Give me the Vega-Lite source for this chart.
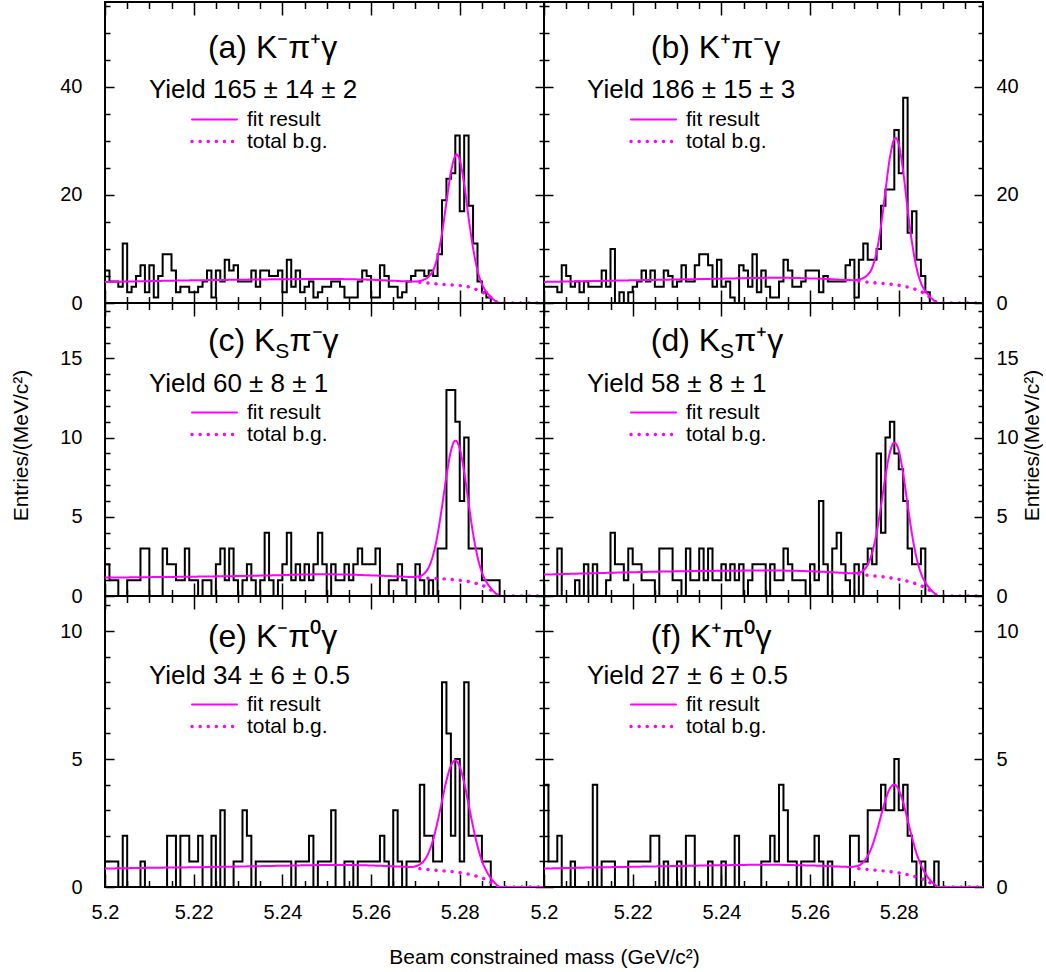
{
  "$schema": "https://vega.github.io/schema/vega-lite/v6.json",
  "padding": {"left": 9, "top": 0, "right": 0, "bottom": 0},
  "config": {
    "view": {"stroke": "black", "strokeWidth": 2},
    "axis": {"domain": false, "grid": false, "tickColor": "black", "tickWidth": 1.5, "labelFont": "Liberation Sans", "labelFontSize": 20, "labelColor": "black", "labelFlush": false, "labelOverlap": false, "labelBound": false, "titleFont": "Liberation Sans", "titleFontSize": 21, "titleFontWeight": "normal", "titleColor": "black"},
    "legend": {"orient": "none", "symbolType": "stroke", "symbolSize": 2025, "clipHeight": 21, "labelFont": "Liberation Sans", "labelFontSize": 21, "labelColor": "black", "labelOffset": 8, "rowPadding": 0, "padding": 0, "symbolStrokeColor": "#ff00ff", "symbolStrokeWidth": 2.5, "labelLimit": 0},
    "text": {"font": "Liberation Sans", "color": "black"}
  },
  "datasets": {
    "ha": [{"m":5.200,"n":6},{"m":5.201,"n":4},{"m":5.202,"n":4},{"m":5.203,"n":3},{"m":5.204,"n":11},{"m":5.205,"n":2},{"m":5.206,"n":3},{"m":5.207,"n":5},{"m":5.208,"n":7},{"m":5.209,"n":2},{"m":5.210,"n":7},{"m":5.211,"n":1},{"m":5.212,"n":5},{"m":5.213,"n":9},{"m":5.214,"n":9},{"m":5.215,"n":6},{"m":5.216,"n":2},{"m":5.217,"n":3},{"m":5.218,"n":3},{"m":5.219,"n":2},{"m":5.220,"n":2},{"m":5.221,"n":3},{"m":5.222,"n":4},{"m":5.223,"n":6},{"m":5.224,"n":1},{"m":5.225,"n":6},{"m":5.226,"n":4},{"m":5.227,"n":8},{"m":5.228,"n":6},{"m":5.229,"n":7},{"m":5.230,"n":4},{"m":5.231,"n":4},{"m":5.232,"n":4},{"m":5.233,"n":6},{"m":5.234,"n":3},{"m":5.235,"n":6},{"m":5.236,"n":6},{"m":5.237,"n":5},{"m":5.238,"n":5},{"m":5.239,"n":6},{"m":5.240,"n":2},{"m":5.241,"n":8},{"m":5.242,"n":3},{"m":5.243,"n":6},{"m":5.244,"n":2},{"m":5.245,"n":3},{"m":5.246,"n":4},{"m":5.247,"n":1},{"m":5.248,"n":2},{"m":5.249,"n":3},{"m":5.250,"n":3},{"m":5.251,"n":4},{"m":5.252,"n":4},{"m":5.253,"n":3},{"m":5.254,"n":1},{"m":5.255,"n":1},{"m":5.256,"n":1},{"m":5.257,"n":4},{"m":5.258,"n":6},{"m":5.259,"n":5},{"m":5.260,"n":1},{"m":5.261,"n":1},{"m":5.262,"n":7},{"m":5.263,"n":5},{"m":5.264,"n":3},{"m":5.265,"n":3},{"m":5.266,"n":1},{"m":5.267,"n":2},{"m":5.268,"n":4},{"m":5.269,"n":5},{"m":5.270,"n":6},{"m":5.271,"n":6},{"m":5.272,"n":5},{"m":5.273,"n":6},{"m":5.274,"n":5},{"m":5.275,"n":9},{"m":5.276,"n":19},{"m":5.277,"n":23},{"m":5.278,"n":24},{"m":5.279,"n":31},{"m":5.280,"n":17},{"m":5.281,"n":31},{"m":5.282,"n":18},{"m":5.283,"n":11},{"m":5.284,"n":4},{"m":5.285,"n":2},{"m":5.286,"n":1},{"m":5.287,"n":0},{"m":5.288,"n":0},{"m":5.289,"n":0},{"m":5.290,"n":0},{"m":5.291,"n":0},{"m":5.292,"n":0},{"m":5.293,"n":0},{"m":5.294,"n":0},{"m":5.295,"n":0},{"m":5.296,"n":0},{"m":5.297,"n":0},{"m":5.298,"n":0},{"m":5.299,"n":0}],
    "hb": [{"m":5.200,"n":3},{"m":5.201,"n":3},{"m":5.202,"n":3},{"m":5.203,"n":2},{"m":5.204,"n":7},{"m":5.205,"n":5},{"m":5.206,"n":3},{"m":5.207,"n":4},{"m":5.208,"n":2},{"m":5.209,"n":4},{"m":5.210,"n":3},{"m":5.211,"n":3},{"m":5.212,"n":3},{"m":5.213,"n":6},{"m":5.214,"n":3},{"m":5.215,"n":10},{"m":5.216,"n":0},{"m":5.217,"n":2},{"m":5.218,"n":0},{"m":5.219,"n":2},{"m":5.220,"n":3},{"m":5.221,"n":4},{"m":5.222,"n":6},{"m":5.223,"n":4},{"m":5.224,"n":6},{"m":5.225,"n":3},{"m":5.226,"n":3},{"m":5.227,"n":6},{"m":5.228,"n":5},{"m":5.229,"n":3},{"m":5.230,"n":4},{"m":5.231,"n":7},{"m":5.232,"n":4},{"m":5.233,"n":4},{"m":5.234,"n":7},{"m":5.235,"n":9},{"m":5.236,"n":9},{"m":5.237,"n":7},{"m":5.238,"n":3},{"m":5.239,"n":8},{"m":5.240,"n":3},{"m":5.241,"n":4},{"m":5.242,"n":1},{"m":5.243,"n":0},{"m":5.244,"n":7},{"m":5.245,"n":6},{"m":5.246,"n":3},{"m":5.247,"n":9},{"m":5.248,"n":2},{"m":5.249,"n":6},{"m":5.250,"n":3},{"m":5.251,"n":1},{"m":5.252,"n":1},{"m":5.253,"n":4},{"m":5.254,"n":8},{"m":5.255,"n":6},{"m":5.256,"n":3},{"m":5.257,"n":3},{"m":5.258,"n":4},{"m":5.259,"n":6},{"m":5.260,"n":6},{"m":5.261,"n":6},{"m":5.262,"n":2},{"m":5.263,"n":5},{"m":5.264,"n":4},{"m":5.265,"n":4},{"m":5.266,"n":4},{"m":5.267,"n":4},{"m":5.268,"n":7},{"m":5.269,"n":8},{"m":5.270,"n":1},{"m":5.271,"n":8},{"m":5.272,"n":11},{"m":5.273,"n":8},{"m":5.274,"n":8},{"m":5.275,"n":10},{"m":5.276,"n":18},{"m":5.277,"n":21},{"m":5.278,"n":21},{"m":5.279,"n":32},{"m":5.280,"n":24},{"m":5.281,"n":38},{"m":5.282,"n":13},{"m":5.283,"n":17},{"m":5.284,"n":8},{"m":5.285,"n":5},{"m":5.286,"n":2},{"m":5.287,"n":0},{"m":5.288,"n":0},{"m":5.289,"n":0},{"m":5.290,"n":0},{"m":5.291,"n":0},{"m":5.292,"n":0},{"m":5.293,"n":0},{"m":5.294,"n":0},{"m":5.295,"n":0},{"m":5.296,"n":0},{"m":5.297,"n":0},{"m":5.298,"n":0},{"m":5.299,"n":0}],
    "hc": [{"m":5.200,"n":2},{"m":5.201,"n":1},{"m":5.202,"n":1},{"m":5.203,"n":0},{"m":5.204,"n":0},{"m":5.205,"n":1},{"m":5.206,"n":1},{"m":5.207,"n":1},{"m":5.208,"n":3},{"m":5.209,"n":3},{"m":5.210,"n":0},{"m":5.211,"n":0},{"m":5.212,"n":0},{"m":5.213,"n":3},{"m":5.214,"n":2},{"m":5.215,"n":2},{"m":5.216,"n":1},{"m":5.217,"n":1},{"m":5.218,"n":3},{"m":5.219,"n":1},{"m":5.220,"n":1},{"m":5.221,"n":0},{"m":5.222,"n":1},{"m":5.223,"n":1},{"m":5.224,"n":0},{"m":5.225,"n":2},{"m":5.226,"n":3},{"m":5.227,"n":1},{"m":5.228,"n":3},{"m":5.229,"n":1},{"m":5.230,"n":0},{"m":5.231,"n":1},{"m":5.232,"n":2},{"m":5.233,"n":1},{"m":5.234,"n":0},{"m":5.235,"n":1},{"m":5.236,"n":4},{"m":5.237,"n":1},{"m":5.238,"n":0},{"m":5.239,"n":1},{"m":5.240,"n":2},{"m":5.241,"n":4},{"m":5.242,"n":1},{"m":5.243,"n":2},{"m":5.244,"n":1},{"m":5.245,"n":2},{"m":5.246,"n":1},{"m":5.247,"n":2},{"m":5.248,"n":4},{"m":5.249,"n":2},{"m":5.250,"n":0},{"m":5.251,"n":2},{"m":5.252,"n":1},{"m":5.253,"n":1},{"m":5.254,"n":2},{"m":5.255,"n":1},{"m":5.256,"n":2},{"m":5.257,"n":3},{"m":5.258,"n":2},{"m":5.259,"n":2},{"m":5.260,"n":2},{"m":5.261,"n":3},{"m":5.262,"n":0},{"m":5.263,"n":0},{"m":5.264,"n":1},{"m":5.265,"n":1},{"m":5.266,"n":2},{"m":5.267,"n":1},{"m":5.268,"n":0},{"m":5.269,"n":0},{"m":5.270,"n":2},{"m":5.271,"n":1},{"m":5.272,"n":0},{"m":5.273,"n":1},{"m":5.274,"n":0},{"m":5.275,"n":3},{"m":5.276,"n":3},{"m":5.277,"n":13},{"m":5.278,"n":13},{"m":5.279,"n":11},{"m":5.280,"n":6},{"m":5.281,"n":10},{"m":5.282,"n":3},{"m":5.283,"n":3},{"m":5.284,"n":3},{"m":5.285,"n":1},{"m":5.286,"n":1},{"m":5.287,"n":1},{"m":5.288,"n":1},{"m":5.289,"n":0},{"m":5.290,"n":0},{"m":5.291,"n":0},{"m":5.292,"n":0},{"m":5.293,"n":0},{"m":5.294,"n":0},{"m":5.295,"n":0},{"m":5.296,"n":0},{"m":5.297,"n":0},{"m":5.298,"n":0},{"m":5.299,"n":0}],
    "hd": [{"m":5.200,"n":0},{"m":5.201,"n":0},{"m":5.202,"n":0},{"m":5.203,"n":3},{"m":5.204,"n":0},{"m":5.205,"n":0},{"m":5.206,"n":0},{"m":5.207,"n":1},{"m":5.208,"n":0},{"m":5.209,"n":2},{"m":5.210,"n":0},{"m":5.211,"n":2},{"m":5.212,"n":0},{"m":5.213,"n":0},{"m":5.214,"n":1},{"m":5.215,"n":4},{"m":5.216,"n":2},{"m":5.217,"n":2},{"m":5.218,"n":1},{"m":5.219,"n":3},{"m":5.220,"n":2},{"m":5.221,"n":2},{"m":5.222,"n":1},{"m":5.223,"n":1},{"m":5.224,"n":1},{"m":5.225,"n":0},{"m":5.226,"n":3},{"m":5.227,"n":3},{"m":5.228,"n":3},{"m":5.229,"n":1},{"m":5.230,"n":1},{"m":5.231,"n":0},{"m":5.232,"n":3},{"m":5.233,"n":1},{"m":5.234,"n":1},{"m":5.235,"n":3},{"m":5.236,"n":1},{"m":5.237,"n":3},{"m":5.238,"n":1},{"m":5.239,"n":1},{"m":5.240,"n":2},{"m":5.241,"n":1},{"m":5.242,"n":2},{"m":5.243,"n":1},{"m":5.244,"n":2},{"m":5.245,"n":0},{"m":5.246,"n":1},{"m":5.247,"n":2},{"m":5.248,"n":2},{"m":5.249,"n":2},{"m":5.250,"n":0},{"m":5.251,"n":2},{"m":5.252,"n":1},{"m":5.253,"n":1},{"m":5.254,"n":3},{"m":5.255,"n":2},{"m":5.256,"n":1},{"m":5.257,"n":1},{"m":5.258,"n":1},{"m":5.259,"n":0},{"m":5.260,"n":2},{"m":5.261,"n":1},{"m":5.262,"n":6},{"m":5.263,"n":2},{"m":5.264,"n":0},{"m":5.265,"n":3},{"m":5.266,"n":4},{"m":5.267,"n":2},{"m":5.268,"n":1},{"m":5.269,"n":0},{"m":5.270,"n":2},{"m":5.271,"n":0},{"m":5.272,"n":2},{"m":5.273,"n":3},{"m":5.274,"n":2},{"m":5.275,"n":9},{"m":5.276,"n":4},{"m":5.277,"n":10},{"m":5.278,"n":11},{"m":5.279,"n":9},{"m":5.280,"n":8},{"m":5.281,"n":6},{"m":5.282,"n":3},{"m":5.283,"n":2},{"m":5.284,"n":2},{"m":5.285,"n":3},{"m":5.286,"n":0},{"m":5.287,"n":0},{"m":5.288,"n":0},{"m":5.289,"n":0},{"m":5.290,"n":0},{"m":5.291,"n":0},{"m":5.292,"n":0},{"m":5.293,"n":0},{"m":5.294,"n":0},{"m":5.295,"n":0},{"m":5.296,"n":0},{"m":5.297,"n":0},{"m":5.298,"n":0},{"m":5.299,"n":0}],
    "he": [{"m":5.200,"n":1},{"m":5.201,"n":1},{"m":5.202,"n":1},{"m":5.203,"n":0},{"m":5.204,"n":2},{"m":5.205,"n":0},{"m":5.206,"n":0},{"m":5.207,"n":0},{"m":5.208,"n":1},{"m":5.209,"n":0},{"m":5.210,"n":0},{"m":5.211,"n":0},{"m":5.212,"n":0},{"m":5.213,"n":0},{"m":5.214,"n":2},{"m":5.215,"n":2},{"m":5.216,"n":0},{"m":5.217,"n":2},{"m":5.218,"n":2},{"m":5.219,"n":1},{"m":5.220,"n":1},{"m":5.221,"n":2},{"m":5.222,"n":0},{"m":5.223,"n":0},{"m":5.224,"n":2},{"m":5.225,"n":0},{"m":5.226,"n":3},{"m":5.227,"n":0},{"m":5.228,"n":0},{"m":5.229,"n":1},{"m":5.230,"n":1},{"m":5.231,"n":3},{"m":5.232,"n":2},{"m":5.233,"n":0},{"m":5.234,"n":1},{"m":5.235,"n":1},{"m":5.236,"n":1},{"m":5.237,"n":1},{"m":5.238,"n":1},{"m":5.239,"n":1},{"m":5.240,"n":1},{"m":5.241,"n":1},{"m":5.242,"n":0},{"m":5.243,"n":1},{"m":5.244,"n":1},{"m":5.245,"n":1},{"m":5.246,"n":2},{"m":5.247,"n":0},{"m":5.248,"n":1},{"m":5.249,"n":1},{"m":5.250,"n":1},{"m":5.251,"n":3},{"m":5.252,"n":0},{"m":5.253,"n":0},{"m":5.254,"n":1},{"m":5.255,"n":1},{"m":5.256,"n":0},{"m":5.257,"n":1},{"m":5.258,"n":1},{"m":5.259,"n":1},{"m":5.260,"n":1},{"m":5.261,"n":1},{"m":5.262,"n":2},{"m":5.263,"n":1},{"m":5.264,"n":0},{"m":5.265,"n":3},{"m":5.266,"n":1},{"m":5.267,"n":0},{"m":5.268,"n":1},{"m":5.269,"n":1},{"m":5.270,"n":1},{"m":5.271,"n":4},{"m":5.272,"n":2},{"m":5.273,"n":2},{"m":5.274,"n":1},{"m":5.275,"n":1},{"m":5.276,"n":8},{"m":5.277,"n":6},{"m":5.278,"n":2},{"m":5.279,"n":5},{"m":5.280,"n":1},{"m":5.281,"n":8},{"m":5.282,"n":2},{"m":5.283,"n":2},{"m":5.284,"n":2},{"m":5.285,"n":1},{"m":5.286,"n":1},{"m":5.287,"n":0},{"m":5.288,"n":0},{"m":5.289,"n":0},{"m":5.290,"n":0},{"m":5.291,"n":0},{"m":5.292,"n":0},{"m":5.293,"n":0},{"m":5.294,"n":0},{"m":5.295,"n":0},{"m":5.296,"n":0},{"m":5.297,"n":0},{"m":5.298,"n":0},{"m":5.299,"n":0}],
    "hf": [{"m":5.200,"n":4},{"m":5.201,"n":1},{"m":5.202,"n":1},{"m":5.203,"n":2},{"m":5.204,"n":0},{"m":5.205,"n":0},{"m":5.206,"n":1},{"m":5.207,"n":0},{"m":5.208,"n":0},{"m":5.209,"n":0},{"m":5.210,"n":0},{"m":5.211,"n":4},{"m":5.212,"n":0},{"m":5.213,"n":1},{"m":5.214,"n":1},{"m":5.215,"n":1},{"m":5.216,"n":0},{"m":5.217,"n":0},{"m":5.218,"n":0},{"m":5.219,"n":1},{"m":5.220,"n":1},{"m":5.221,"n":1},{"m":5.222,"n":1},{"m":5.223,"n":1},{"m":5.224,"n":2},{"m":5.225,"n":2},{"m":5.226,"n":0},{"m":5.227,"n":1},{"m":5.228,"n":0},{"m":5.229,"n":0},{"m":5.230,"n":1},{"m":5.231,"n":0},{"m":5.232,"n":2},{"m":5.233,"n":2},{"m":5.234,"n":0},{"m":5.235,"n":0},{"m":5.236,"n":0},{"m":5.237,"n":1},{"m":5.238,"n":0},{"m":5.239,"n":0},{"m":5.240,"n":1},{"m":5.241,"n":0},{"m":5.242,"n":0},{"m":5.243,"n":2},{"m":5.244,"n":0},{"m":5.245,"n":0},{"m":5.246,"n":0},{"m":5.247,"n":0},{"m":5.248,"n":0},{"m":5.249,"n":1},{"m":5.250,"n":1},{"m":5.251,"n":2},{"m":5.252,"n":1},{"m":5.253,"n":4},{"m":5.254,"n":3},{"m":5.255,"n":1},{"m":5.256,"n":1},{"m":5.257,"n":0},{"m":5.258,"n":1},{"m":5.259,"n":1},{"m":5.260,"n":1},{"m":5.261,"n":2},{"m":5.262,"n":1},{"m":5.263,"n":0},{"m":5.264,"n":1},{"m":5.265,"n":0},{"m":5.266,"n":0},{"m":5.267,"n":0},{"m":5.268,"n":0},{"m":5.269,"n":2},{"m":5.270,"n":2},{"m":5.271,"n":1},{"m":5.272,"n":1},{"m":5.273,"n":3},{"m":5.274,"n":3},{"m":5.275,"n":3},{"m":5.276,"n":4},{"m":5.277,"n":3},{"m":5.278,"n":3},{"m":5.279,"n":5},{"m":5.280,"n":3},{"m":5.281,"n":4},{"m":5.282,"n":2},{"m":5.283,"n":1},{"m":5.284,"n":0},{"m":5.285,"n":1},{"m":5.286,"n":0},{"m":5.287,"n":0},{"m":5.288,"n":1},{"m":5.289,"n":0},{"m":5.290,"n":0},{"m":5.291,"n":0},{"m":5.292,"n":0},{"m":5.293,"n":0},{"m":5.294,"n":0},{"m":5.295,"n":0},{"m":5.296,"n":0},{"m":5.297,"n":0},{"m":5.298,"n":0},{"m":5.299,"n":0}],
    "fa": [{"m":5.200,"fit":3.9,"bg":3.9},{"m":5.210,"fit":4.05,"bg":4.05},{"m":5.220,"fit":4.2,"bg":4.2},{"m":5.230,"fit":4.3,"bg":4.3},{"m":5.240,"fit":4.4,"bg":4.4},{"m":5.250,"fit":4.45,"bg":4.45},{"m":5.255,"fit":4.4,"bg":4.4},{"m":5.260,"fit":4.3,"bg":4.3},{"m":5.265,"fit":4.12,"bg":4.12},{"m":5.268,"fit":4.0,"bg":4.0},{"m":5.270,"fit":3.97,"bg":3.9},{"m":5.271,"fit":4.07,"bg":3.83},{"m":5.272,"fit":4.36,"bg":3.75},{"m":5.273,"fit":4.89,"bg":3.68},{"m":5.274,"fit":6.02,"bg":3.6},{"m":5.275,"fit":8.6,"bg":3.52},{"m":5.276,"fit":12.89,"bg":3.45},{"m":5.277,"fit":18.65,"bg":3.4},{"m":5.278,"fit":24.16,"bg":3.35},{"m":5.279,"fit":27.26,"bg":3.3},{"m":5.2793,"fit":27.48,"bg":3.28},{"m":5.280,"fit":26.45,"bg":3.22},{"m":5.281,"fit":22.0,"bg":3.12},{"m":5.282,"fit":15.81,"bg":2.98},{"m":5.283,"fit":10.2,"bg":2.7},{"m":5.284,"fit":6.03,"bg":2.4},{"m":5.285,"fit":3.5,"bg":2.05},{"m":5.286,"fit":2.08,"bg":1.6},{"m":5.287,"fit":1.15,"bg":1.0},{"m":5.288,"fit":0.37,"bg":0.35},{"m":5.289,"fit":0,"bg":0},{"m":5.299,"fit":0,"bg":0}],
    "fb": [{"m":5.200,"fit":3.9,"bg":3.9},{"m":5.210,"fit":4.05,"bg":4.05},{"m":5.220,"fit":4.2,"bg":4.2},{"m":5.230,"fit":4.35,"bg":4.35},{"m":5.240,"fit":4.5,"bg":4.5},{"m":5.250,"fit":4.65,"bg":4.65},{"m":5.255,"fit":4.65,"bg":4.65},{"m":5.260,"fit":4.55,"bg":4.55},{"m":5.265,"fit":4.4,"bg":4.4},{"m":5.268,"fit":4.25,"bg":4.25},{"m":5.270,"fit":4.23,"bg":4.15},{"m":5.271,"fit":4.34,"bg":4.07},{"m":5.272,"fit":4.63,"bg":3.95},{"m":5.273,"fit":5.21,"bg":3.85},{"m":5.274,"fit":6.5,"bg":3.78},{"m":5.275,"fit":9.43,"bg":3.72},{"m":5.276,"fit":14.27,"bg":3.66},{"m":5.277,"fit":20.74,"bg":3.6},{"m":5.278,"fit":26.89,"bg":3.5},{"m":5.279,"fit":30.33,"bg":3.4},{"m":5.2793,"fit":30.57,"bg":3.37},{"m":5.280,"fit":29.39,"bg":3.28},{"m":5.281,"fit":24.34,"bg":3.12},{"m":5.282,"fit":17.37,"bg":2.95},{"m":5.283,"fit":11.15,"bg":2.72},{"m":5.284,"fit":6.53,"bg":2.45},{"m":5.285,"fit":3.73,"bg":2.1},{"m":5.286,"fit":2.19,"bg":1.65},{"m":5.287,"fit":1.21,"bg":1.05},{"m":5.288,"fit":0.43,"bg":0.4},{"m":5.289,"fit":0,"bg":0},{"m":5.299,"fit":0,"bg":0}],
    "fc": [{"m":5.200,"fit":1.16,"bg":1.16},{"m":5.210,"fit":1.19,"bg":1.19},{"m":5.220,"fit":1.22,"bg":1.22},{"m":5.230,"fit":1.26,"bg":1.26},{"m":5.240,"fit":1.32,"bg":1.32},{"m":5.245,"fit":1.36,"bg":1.36},{"m":5.250,"fit":1.37,"bg":1.37},{"m":5.255,"fit":1.35,"bg":1.35},{"m":5.260,"fit":1.3,"bg":1.3},{"m":5.265,"fit":1.25,"bg":1.25},{"m":5.268,"fit":1.21,"bg":1.21},{"m":5.269,"fit":1.2,"bg":1.195},{"m":5.270,"fit":1.21,"bg":1.18},{"m":5.271,"fit":1.26,"bg":1.16},{"m":5.272,"fit":1.42,"bg":1.14},{"m":5.273,"fit":1.81,"bg":1.12},{"m":5.274,"fit":2.59,"bg":1.11},{"m":5.275,"fit":3.88,"bg":1.1},{"m":5.276,"fit":5.64,"bg":1.09},{"m":5.277,"fit":7.57,"bg":1.07},{"m":5.278,"fit":9.15,"bg":1.05},{"m":5.279,"fit":9.81,"bg":1.02},{"m":5.280,"fit":9.31,"bg":0.99},{"m":5.281,"fit":7.83,"bg":0.96},{"m":5.282,"fit":5.86,"bg":0.91},{"m":5.283,"fit":3.95,"bg":0.85},{"m":5.284,"fit":2.47,"bg":0.77},{"m":5.285,"fit":1.49,"bg":0.68},{"m":5.286,"fit":0.89,"bg":0.56},{"m":5.287,"fit":0.5,"bg":0.38},{"m":5.288,"fit":0.19,"bg":0.15},{"m":5.289,"fit":0,"bg":0},{"m":5.299,"fit":0,"bg":0}],
    "fd": [{"m":5.200,"fit":1.35,"bg":1.35},{"m":5.210,"fit":1.43,"bg":1.43},{"m":5.220,"fit":1.5,"bg":1.5},{"m":5.230,"fit":1.56,"bg":1.56},{"m":5.240,"fit":1.59,"bg":1.59},{"m":5.250,"fit":1.61,"bg":1.61},{"m":5.255,"fit":1.6,"bg":1.6},{"m":5.260,"fit":1.56,"bg":1.56},{"m":5.265,"fit":1.5,"bg":1.5},{"m":5.268,"fit":1.45,"bg":1.45},{"m":5.269,"fit":1.44,"bg":1.43},{"m":5.270,"fit":1.44,"bg":1.41},{"m":5.271,"fit":1.48,"bg":1.38},{"m":5.272,"fit":1.61,"bg":1.34},{"m":5.273,"fit":1.98,"bg":1.31},{"m":5.274,"fit":2.72,"bg":1.28},{"m":5.275,"fit":3.97,"bg":1.25},{"m":5.276,"fit":5.68,"bg":1.23},{"m":5.277,"fit":7.56,"bg":1.2},{"m":5.278,"fit":9.06,"bg":1.15},{"m":5.279,"fit":9.69,"bg":1.1},{"m":5.280,"fit":9.19,"bg":1.05},{"m":5.281,"fit":7.72,"bg":1.0},{"m":5.282,"fit":5.76,"bg":0.93},{"m":5.283,"fit":3.88,"bg":0.85},{"m":5.284,"fit":2.42,"bg":0.76},{"m":5.285,"fit":1.44,"bg":0.65},{"m":5.286,"fit":0.85,"bg":0.52},{"m":5.287,"fit":0.47,"bg":0.35},{"m":5.288,"fit":0.18,"bg":0.14},{"m":5.289,"fit":0,"bg":0},{"m":5.299,"fit":0,"bg":0}],
    "fe": [{"m":5.200,"fit":0.72,"bg":0.72},{"m":5.210,"fit":0.75,"bg":0.75},{"m":5.220,"fit":0.77,"bg":0.77},{"m":5.230,"fit":0.8,"bg":0.8},{"m":5.240,"fit":0.83,"bg":0.83},{"m":5.250,"fit":0.86,"bg":0.86},{"m":5.255,"fit":0.86,"bg":0.86},{"m":5.260,"fit":0.84,"bg":0.84},{"m":5.264,"fit":0.815,"bg":0.815},{"m":5.266,"fit":0.8,"bg":0.8},{"m":5.268,"fit":0.79,"bg":0.78},{"m":5.269,"fit":0.78,"bg":0.76},{"m":5.270,"fit":0.81,"bg":0.74},{"m":5.271,"fit":0.88,"bg":0.72},{"m":5.272,"fit":1.04,"bg":0.7},{"m":5.273,"fit":1.35,"bg":0.68},{"m":5.274,"fit":1.85,"bg":0.665},{"m":5.275,"fit":2.55,"bg":0.65},{"m":5.276,"fit":3.36,"bg":0.635},{"m":5.277,"fit":4.16,"bg":0.62},{"m":5.278,"fit":4.74,"bg":0.605},{"m":5.279,"fit":4.95,"bg":0.59},{"m":5.280,"fit":4.7,"bg":0.56},{"m":5.281,"fit":4.07,"bg":0.53},{"m":5.282,"fit":3.23,"bg":0.5},{"m":5.283,"fit":2.36,"bg":0.46},{"m":5.284,"fit":1.6,"bg":0.41},{"m":5.285,"fit":1.02,"bg":0.35},{"m":5.286,"fit":0.63,"bg":0.29},{"m":5.287,"fit":0.35,"bg":0.19},{"m":5.288,"fit":0.14,"bg":0.07},{"m":5.289,"fit":0,"bg":0},{"m":5.299,"fit":0,"bg":0}],
    "ff": [{"m":5.200,"fit":0.72,"bg":0.72},{"m":5.210,"fit":0.76,"bg":0.76},{"m":5.220,"fit":0.79,"bg":0.79},{"m":5.230,"fit":0.82,"bg":0.82},{"m":5.240,"fit":0.85,"bg":0.85},{"m":5.250,"fit":0.87,"bg":0.87},{"m":5.255,"fit":0.86,"bg":0.86},{"m":5.260,"fit":0.84,"bg":0.84},{"m":5.264,"fit":0.82,"bg":0.82},{"m":5.266,"fit":0.8,"bg":0.8},{"m":5.268,"fit":0.79,"bg":0.78},{"m":5.269,"fit":0.78,"bg":0.765},{"m":5.270,"fit":0.8,"bg":0.75},{"m":5.271,"fit":0.84,"bg":0.72},{"m":5.272,"fit":0.97,"bg":0.7},{"m":5.273,"fit":1.21,"bg":0.685},{"m":5.274,"fit":1.6,"bg":0.67},{"m":5.275,"fit":2.14,"bg":0.655},{"m":5.276,"fit":2.78,"bg":0.64},{"m":5.277,"fit":3.4,"bg":0.62},{"m":5.278,"fit":3.85,"bg":0.6},{"m":5.279,"fit":4.0,"bg":0.58},{"m":5.280,"fit":3.8,"bg":0.555},{"m":5.281,"fit":3.3,"bg":0.52},{"m":5.282,"fit":2.62,"bg":0.48},{"m":5.283,"fit":1.93,"bg":0.44},{"m":5.284,"fit":1.32,"bg":0.39},{"m":5.285,"fit":0.86,"bg":0.33},{"m":5.286,"fit":0.53,"bg":0.26},{"m":5.287,"fit":0.29,"bg":0.17},{"m":5.288,"fit":0.11,"bg":0.06},{"m":5.289,"fit":0,"bg":0},{"m":5.299,"fit":0,"bg":0}]
  },
  "columns": 2,
  "spacing": 0,
  "bounds": "flush",
  "resolve": {"scale": {"strokeDash": "independent", "strokeWidth": "independent"}, "legend": {"strokeDash": "independent"}},
  "concat": [
    {
      "width": 439, "height": 301,
      "layer": [
        {"data": {"name": "ha"}, "mark": {"type": "line", "interpolate": "step-after", "color": "black", "strokeWidth": 2, "clip": true},
         "encoding": {
           "x": {"field": "m", "type": "quantitative", "scale": {"domain": [5.2, 5.299], "nice": false, "zero": false}, "axis": {"orient": "bottom", "title": null, "labels": false, "values": [5.2,5.205,5.21,5.215,5.22,5.225,5.23,5.235,5.24,5.245,5.25,5.255,5.26,5.265,5.27,5.275,5.28,5.285,5.29,5.295], "tickSize": {"condition": {"test": "abs(datum.value*50-round(datum.value*50))<0.01", "value": -13}, "value": -6.5}}},
           "y": {"field": "n", "type": "quantitative", "scale": {"domain": [0, 55.7], "nice": false}, "axis": {"orient": "left", "title": null, "values": [0,5,10,15,20,25,30,35,40,45,50,55], "tickSize": {"condition": {"test": "datum.value % 20 == 0", "value": -9}, "value": -5}, "labelExpr": "datum.value % 20 == 0 ? datum.label : ''", "labelFontSize": {"condition": {"test": "datum.value % 20 != 0", "value": 0}, "value": 20}, "labelPadding": 32}}}},
        {"data": {"name": "fa"}, "transform": [{"fold": ["fit", "bg"], "as": ["curve", "v"]}, {"filter": "datum.curve == 'fit' || datum.m >= 5.2705"}],
         "mark": {"type": "line", "color": "#ff00ff", "interpolate": "monotone", "strokeCap": "round", "clip": true},
         "encoding": {
           "x": {"field": "m", "type": "quantitative", "scale": {"domain": [5.2, 5.299], "nice": false, "zero": false}, "axis": {"orient": "top", "title": null, "labels": false, "values": [5.2,5.205,5.21,5.215,5.22,5.225,5.23,5.235,5.24,5.245,5.25,5.255,5.26,5.265,5.27,5.275,5.28,5.285,5.29,5.295], "tickSize": {"condition": {"test": "abs(datum.value*50-round(datum.value*50))<0.01", "value": -13}, "value": -6.5}}},
           "y": {"field": "v", "type": "quantitative", "scale": {"domain": [0, 55.7], "nice": false}, "axis": {"orient": "right", "title": null, "labels": false, "values": [0,5,10,15,20,25,30,35,40,45,50,55], "tickSize": {"condition": {"test": "datum.value % 20 == 0", "value": -9}, "value": -5}}},
           "strokeDash": {"field": "curve", "type": "nominal", "scale": {"domain": ["fit", "bg"], "range": [[1, 0], [0.1, 8]]}, "legend": {"title": null, "legendX": 85, "legendY": 107, "labelExpr": "datum.value == 'bg' ? 'total b.g.' : 'fit result'", "encode": {"symbols": {"update": {"strokeCap": {"value": "round"}, "strokeWidth": {"signal": "datum.value == 'bg' ? 3.4 : 2"}}}}}},
           "strokeWidth": {"field": "curve", "type": "ordinal", "scale": {"domain": ["fit", "bg"], "range": [2, 3.4]}, "legend": null}}},
        {"data": {"values": [{"t": "(a) K⁻π⁺γ"}]}, "mark": {"type": "text", "align": "left", "baseline": "alphabetic", "fontSize": 32},
         "encoding": {"x": {"datum": 5.2232, "type": "quantitative", "axis": null}, "y": {"datum": 45.3, "type": "quantitative", "axis": null}, "text": {"field": "t"}}},
        {"data": {"values": [{"t": "Yield 165 ± 14 ± 2"}]}, "mark": {"type": "text", "align": "left", "baseline": "alphabetic", "fontSize": 26},
         "encoding": {"x": {"datum": 5.2099, "type": "quantitative", "axis": null}, "y": {"datum": 37.9, "type": "quantitative", "axis": null}, "text": {"field": "t"}}}
      ],
      "resolve": {"axis": {"x": "independent", "y": "independent"}}
    },
    {
      "width": 439, "height": 301,
      "layer": [
        {"data": {"name": "hb"}, "mark": {"type": "line", "interpolate": "step-after", "color": "black", "strokeWidth": 2, "clip": true},
         "encoding": {
           "x": {"field": "m", "type": "quantitative", "scale": {"domain": [5.2, 5.299], "nice": false, "zero": false}, "axis": {"orient": "bottom", "title": null, "labels": false, "values": [5.2,5.205,5.21,5.215,5.22,5.225,5.23,5.235,5.24,5.245,5.25,5.255,5.26,5.265,5.27,5.275,5.28,5.285,5.29,5.295], "tickSize": {"condition": {"test": "abs(datum.value*50-round(datum.value*50))<0.01", "value": -13}, "value": -6.5}}},
           "y": {"field": "n", "type": "quantitative", "scale": {"domain": [0, 55.7], "nice": false}, "axis": {"orient": "left", "title": null, "labels": false, "values": [0,5,10,15,20,25,30,35,40,45,50,55], "tickSize": {"condition": {"test": "datum.value % 20 == 0", "value": -9}, "value": -5}}}}},
        {"data": {"name": "fb"}, "transform": [{"fold": ["fit", "bg"], "as": ["curve", "v"]}, {"filter": "datum.curve == 'fit' || datum.m >= 5.2705"}],
         "mark": {"type": "line", "color": "#ff00ff", "interpolate": "monotone", "strokeCap": "round", "clip": true},
         "encoding": {
           "x": {"field": "m", "type": "quantitative", "scale": {"domain": [5.2, 5.299], "nice": false, "zero": false}, "axis": {"orient": "top", "title": null, "labels": false, "values": [5.2,5.205,5.21,5.215,5.22,5.225,5.23,5.235,5.24,5.245,5.25,5.255,5.26,5.265,5.27,5.275,5.28,5.285,5.29,5.295], "tickSize": {"condition": {"test": "abs(datum.value*50-round(datum.value*50))<0.01", "value": -13}, "value": -6.5}}},
           "y": {"field": "v", "type": "quantitative", "scale": {"domain": [0, 55.7], "nice": false}, "axis": {"orient": "right", "title": null, "values": [0,5,10,15,20,25,30,35,40,45,50,55], "tickSize": {"condition": {"test": "datum.value % 20 == 0", "value": -9}, "value": -5}, "labelExpr": "datum.value % 20 == 0 ? datum.label : ''", "labelFontSize": {"condition": {"test": "datum.value % 20 != 0", "value": 0}, "value": 20}, "labelPadding": 22}},
           "strokeDash": {"field": "curve", "type": "nominal", "scale": {"domain": ["fit", "bg"], "range": [[1, 0], [0.1, 8]]}, "legend": {"title": null, "legendX": 85, "legendY": 107, "labelExpr": "datum.value == 'bg' ? 'total b.g.' : 'fit result'", "encode": {"symbols": {"update": {"strokeCap": {"value": "round"}, "strokeWidth": {"signal": "datum.value == 'bg' ? 3.4 : 2"}}}}}},
           "strokeWidth": {"field": "curve", "type": "ordinal", "scale": {"domain": ["fit", "bg"], "range": [2, 3.4]}, "legend": null}}},
        {"data": {"values": [{"t": "(b) K⁺π⁻γ"}]}, "mark": {"type": "text", "align": "left", "baseline": "alphabetic", "fontSize": 32},
         "encoding": {"x": {"datum": 5.2241, "type": "quantitative", "axis": null}, "y": {"datum": 45.3, "type": "quantitative", "axis": null}, "text": {"field": "t"}}},
        {"data": {"values": [{"t": "Yield 186 ± 15 ± 3"}]}, "mark": {"type": "text", "align": "left", "baseline": "alphabetic", "fontSize": 26},
         "encoding": {"x": {"datum": 5.2097, "type": "quantitative", "axis": null}, "y": {"datum": 37.9, "type": "quantitative", "axis": null}, "text": {"field": "t"}}}
      ],
      "resolve": {"axis": {"x": "independent", "y": "independent"}}
    },
    {
      "width": 439, "height": 293,
      "layer": [
        {"data": {"name": "hc"}, "mark": {"type": "line", "interpolate": "step-after", "color": "black", "strokeWidth": 2, "clip": true},
         "encoding": {
           "x": {"field": "m", "type": "quantitative", "scale": {"domain": [5.2, 5.299], "nice": false, "zero": false}, "axis": {"orient": "bottom", "title": null, "labels": false, "values": [5.2,5.205,5.21,5.215,5.22,5.225,5.23,5.235,5.24,5.245,5.25,5.255,5.26,5.265,5.27,5.275,5.28,5.285,5.29,5.295], "tickSize": {"condition": {"test": "abs(datum.value*50-round(datum.value*50))<0.01", "value": -13}, "value": -6.5}}},
           "y": {"field": "n", "type": "quantitative", "scale": {"domain": [0, 18.5], "nice": false}, "axis": {"orient": "left", "title": "Entries/(MeV/c²)", "titleX": -84, "titleY": 142, "titleAngle": 270, "titleBaseline": "middle", "titleAlign": "center", "values": [0,1,2,3,4,5,6,7,8,9,10,11,12,13,14,15,16,17,18], "tickSize": {"condition": {"test": "datum.value % 5 == 0", "value": -9}, "value": -5}, "labelExpr": "datum.value % 5 == 0 ? datum.label : ''", "labelFontSize": {"condition": {"test": "datum.value % 5 != 0", "value": 0}, "value": 20}, "labelPadding": 32}}}},
        {"data": {"name": "fc"}, "transform": [{"fold": ["fit", "bg"], "as": ["curve", "v"]}, {"filter": "datum.curve == 'fit' || datum.m >= 5.2705"}],
         "mark": {"type": "line", "color": "#ff00ff", "interpolate": "monotone", "strokeCap": "round", "clip": true},
         "encoding": {
           "x": {"field": "m", "type": "quantitative", "scale": {"domain": [5.2, 5.299], "nice": false, "zero": false}, "axis": {"orient": "top", "title": null, "labels": false, "values": [5.2,5.205,5.21,5.215,5.22,5.225,5.23,5.235,5.24,5.245,5.25,5.255,5.26,5.265,5.27,5.275,5.28,5.285,5.29,5.295], "tickSize": {"condition": {"test": "abs(datum.value*50-round(datum.value*50))<0.01", "value": -13}, "value": -6.5}}},
           "y": {"field": "v", "type": "quantitative", "scale": {"domain": [0, 18.5], "nice": false}, "axis": {"orient": "right", "title": null, "labels": false, "values": [0,1,2,3,4,5,6,7,8,9,10,11,12,13,14,15,16,17,18], "tickSize": {"condition": {"test": "datum.value % 5 == 0", "value": -9}, "value": -5}}},
           "strokeDash": {"field": "curve", "type": "nominal", "scale": {"domain": ["fit", "bg"], "range": [[1, 0], [0.1, 8]]}, "legend": {"title": null, "legendX": 85, "legendY": 99, "labelExpr": "datum.value == 'bg' ? 'total b.g.' : 'fit result'", "encode": {"symbols": {"update": {"strokeCap": {"value": "round"}, "strokeWidth": {"signal": "datum.value == 'bg' ? 3.4 : 2"}}}}}},
           "strokeWidth": {"field": "curve", "type": "ordinal", "scale": {"domain": ["fit", "bg"], "range": [2, 3.4]}, "legend": null}}},
        {"data": {"values": [{"t": "(c) K"}]}, "mark": {"type": "text", "align": "left", "baseline": "alphabetic", "fontSize": 32},
         "encoding": {"x": {"datum": 5.2232, "type": "quantitative", "axis": null}, "y": {"datum": 15.47, "type": "quantitative", "axis": null}, "text": {"field": "t"}}},
        {"data": {"values": [{"t": "S"}]}, "mark": {"type": "text", "align": "left", "baseline": "alphabetic", "fontSize": 21},
         "encoding": {"x": {"datum": 5.2384, "type": "quantitative", "axis": null}, "y": {"datum": 15.0, "type": "quantitative", "axis": null}, "text": {"field": "t"}}},
        {"data": {"values": [{"t": "π⁻γ"}]}, "mark": {"type": "text", "align": "left", "baseline": "alphabetic", "fontSize": 32},
         "encoding": {"x": {"datum": 5.2416, "type": "quantitative", "axis": null}, "y": {"datum": 15.47, "type": "quantitative", "axis": null}, "text": {"field": "t"}}},
        {"data": {"values": [{"t": "Yield 60 ± 8 ± 1"}]}, "mark": {"type": "text", "align": "left", "baseline": "alphabetic", "fontSize": 26},
         "encoding": {"x": {"datum": 5.2099, "type": "quantitative", "axis": null}, "y": {"datum": 12.88, "type": "quantitative", "axis": null}, "text": {"field": "t"}}}
      ],
      "resolve": {"axis": {"x": "independent", "y": "independent"}}
    },
    {
      "width": 439, "height": 293,
      "layer": [
        {"data": {"name": "hd"}, "mark": {"type": "line", "interpolate": "step-after", "color": "black", "strokeWidth": 2, "clip": true},
         "encoding": {
           "x": {"field": "m", "type": "quantitative", "scale": {"domain": [5.2, 5.299], "nice": false, "zero": false}, "axis": {"orient": "bottom", "title": null, "labels": false, "values": [5.2,5.205,5.21,5.215,5.22,5.225,5.23,5.235,5.24,5.245,5.25,5.255,5.26,5.265,5.27,5.275,5.28,5.285,5.29,5.295], "tickSize": {"condition": {"test": "abs(datum.value*50-round(datum.value*50))<0.01", "value": -13}, "value": -6.5}}},
           "y": {"field": "n", "type": "quantitative", "scale": {"domain": [0, 18.5], "nice": false}, "axis": {"orient": "left", "title": null, "labels": false, "values": [0,1,2,3,4,5,6,7,8,9,10,11,12,13,14,15,16,17,18], "tickSize": {"condition": {"test": "datum.value % 5 == 0", "value": -9}, "value": -5}}}}},
        {"data": {"name": "fd"}, "transform": [{"fold": ["fit", "bg"], "as": ["curve", "v"]}, {"filter": "datum.curve == 'fit' || datum.m >= 5.2705"}],
         "mark": {"type": "line", "color": "#ff00ff", "interpolate": "monotone", "strokeCap": "round", "clip": true},
         "encoding": {
           "x": {"field": "m", "type": "quantitative", "scale": {"domain": [5.2, 5.299], "nice": false, "zero": false}, "axis": {"orient": "top", "title": null, "labels": false, "values": [5.2,5.205,5.21,5.215,5.22,5.225,5.23,5.235,5.24,5.245,5.25,5.255,5.26,5.265,5.27,5.275,5.28,5.285,5.29,5.295], "tickSize": {"condition": {"test": "abs(datum.value*50-round(datum.value*50))<0.01", "value": -13}, "value": -6.5}}},
           "y": {"field": "v", "type": "quantitative", "scale": {"domain": [0, 18.5], "nice": false}, "axis": {"orient": "right", "title": "Entries/(MeV/c²)", "titleX": 49, "titleY": 142, "titleAngle": 270, "titleBaseline": "middle", "titleAlign": "center", "values": [0,1,2,3,4,5,6,7,8,9,10,11,12,13,14,15,16,17,18], "tickSize": {"condition": {"test": "datum.value % 5 == 0", "value": -9}, "value": -5}, "labelExpr": "datum.value % 5 == 0 ? datum.label : ''", "labelFontSize": {"condition": {"test": "datum.value % 5 != 0", "value": 0}, "value": 20}, "labelPadding": 22}},
           "strokeDash": {"field": "curve", "type": "nominal", "scale": {"domain": ["fit", "bg"], "range": [[1, 0], [0.1, 8]]}, "legend": {"title": null, "legendX": 85, "legendY": 99, "labelExpr": "datum.value == 'bg' ? 'total b.g.' : 'fit result'", "encode": {"symbols": {"update": {"strokeCap": {"value": "round"}, "strokeWidth": {"signal": "datum.value == 'bg' ? 3.4 : 2"}}}}}},
           "strokeWidth": {"field": "curve", "type": "ordinal", "scale": {"domain": ["fit", "bg"], "range": [2, 3.4]}, "legend": null}}},
        {"data": {"values": [{"t": "(d) K"}]}, "mark": {"type": "text", "align": "left", "baseline": "alphabetic", "fontSize": 32},
         "encoding": {"x": {"datum": 5.2241, "type": "quantitative", "axis": null}, "y": {"datum": 15.47, "type": "quantitative", "axis": null}, "text": {"field": "t"}}},
        {"data": {"values": [{"t": "S"}]}, "mark": {"type": "text", "align": "left", "baseline": "alphabetic", "fontSize": 21},
         "encoding": {"x": {"datum": 5.2397, "type": "quantitative", "axis": null}, "y": {"datum": 15.0, "type": "quantitative", "axis": null}, "text": {"field": "t"}}},
        {"data": {"values": [{"t": "π⁺γ"}]}, "mark": {"type": "text", "align": "left", "baseline": "alphabetic", "fontSize": 32},
         "encoding": {"x": {"datum": 5.2429, "type": "quantitative", "axis": null}, "y": {"datum": 15.47, "type": "quantitative", "axis": null}, "text": {"field": "t"}}},
        {"data": {"values": [{"t": "Yield 58 ± 8 ± 1"}]}, "mark": {"type": "text", "align": "left", "baseline": "alphabetic", "fontSize": 26},
         "encoding": {"x": {"datum": 5.2097, "type": "quantitative", "axis": null}, "y": {"datum": 12.88, "type": "quantitative", "axis": null}, "text": {"field": "t"}}}
      ],
      "resolve": {"axis": {"x": "independent", "y": "independent"}}
    },
    {
      "width": 439, "height": 291,
      "layer": [
        {"data": {"name": "he"}, "mark": {"type": "line", "interpolate": "step-after", "color": "black", "strokeWidth": 2, "clip": true},
         "encoding": {
           "x": {"field": "m", "type": "quantitative", "scale": {"domain": [5.2, 5.299], "nice": false, "zero": false}, "axis": {"orient": "bottom", "title": "Beam constrained mass (GeV/c²)", "titleX": 439, "titleY": 76, "titleAlign": "center", "titleBaseline": "alphabetic", "values": [5.2,5.205,5.21,5.215,5.22,5.225,5.23,5.235,5.24,5.245,5.25,5.255,5.26,5.265,5.27,5.275,5.28,5.285,5.29,5.295], "tickSize": {"condition": {"test": "abs(datum.value*50-round(datum.value*50))<0.01", "value": -13}, "value": -6.5}, "labelExpr": "abs(datum.value*50-round(datum.value*50))<0.01 ? format(datum.value, '.2~f') : ''", "labelFontSize": {"condition": {"test": "abs(datum.value*50-round(datum.value*50))>=0.01", "value": 0}, "value": 20}, "labelPadding": 28}},
           "y": {"field": "n", "type": "quantitative", "scale": {"domain": [0, 11.37], "nice": false}, "axis": {"orient": "left", "title": null, "values": [0,1,2,3,4,5,6,7,8,9,10,11], "tickSize": {"condition": {"test": "datum.value % 5 == 0", "value": -9}, "value": -5}, "labelExpr": "datum.value % 5 == 0 ? datum.label : ''", "labelFontSize": {"condition": {"test": "datum.value % 5 != 0", "value": 0}, "value": 20}, "labelPadding": 32}}}},
        {"data": {"name": "fe"}, "transform": [{"fold": ["fit", "bg"], "as": ["curve", "v"]}, {"filter": "datum.curve == 'fit' || datum.m >= 5.2705"}],
         "mark": {"type": "line", "color": "#ff00ff", "interpolate": "monotone", "strokeCap": "round", "clip": true},
         "encoding": {
           "x": {"field": "m", "type": "quantitative", "scale": {"domain": [5.2, 5.299], "nice": false, "zero": false}, "axis": {"orient": "top", "title": null, "labels": false, "values": [5.2,5.205,5.21,5.215,5.22,5.225,5.23,5.235,5.24,5.245,5.25,5.255,5.26,5.265,5.27,5.275,5.28,5.285,5.29,5.295], "tickSize": {"condition": {"test": "abs(datum.value*50-round(datum.value*50))<0.01", "value": -13}, "value": -6.5}}},
           "y": {"field": "v", "type": "quantitative", "scale": {"domain": [0, 11.37], "nice": false}, "axis": {"orient": "right", "title": null, "labels": false, "values": [0,1,2,3,4,5,6,7,8,9,10,11], "tickSize": {"condition": {"test": "datum.value % 5 == 0", "value": -9}, "value": -5}}},
           "strokeDash": {"field": "curve", "type": "nominal", "scale": {"domain": ["fit", "bg"], "range": [[1, 0], [0.1, 8]]}, "legend": {"title": null, "legendX": 85, "legendY": 98, "labelExpr": "datum.value == 'bg' ? 'total b.g.' : 'fit result'", "encode": {"symbols": {"update": {"strokeCap": {"value": "round"}, "strokeWidth": {"signal": "datum.value == 'bg' ? 3.4 : 2"}}}}}},
           "strokeWidth": {"field": "curve", "type": "ordinal", "scale": {"domain": ["fit", "bg"], "range": [2, 3.4]}, "legend": null}}},
        {"data": {"values": [{"t": "(e) K⁻π⁰γ"}]}, "mark": {"type": "text", "align": "left", "baseline": "alphabetic", "fontSize": 32},
         "encoding": {"x": {"datum": 5.2232, "type": "quantitative", "axis": null}, "y": {"datum": 9.375, "type": "quantitative", "axis": null}, "text": {"field": "t"}}},
        {"data": {"values": [{"t": "Yield 34 ± 6 ± 0.5"}]}, "mark": {"type": "text", "align": "left", "baseline": "alphabetic", "fontSize": 26},
         "encoding": {"x": {"datum": 5.2099, "type": "quantitative", "axis": null}, "y": {"datum": 7.93, "type": "quantitative", "axis": null}, "text": {"field": "t"}}}
      ],
      "resolve": {"axis": {"x": "independent", "y": "independent"}}
    },
    {
      "width": 439, "height": 291,
      "layer": [
        {"data": {"name": "hf"}, "mark": {"type": "line", "interpolate": "step-after", "color": "black", "strokeWidth": 2, "clip": true},
         "encoding": {
           "x": {"field": "m", "type": "quantitative", "scale": {"domain": [5.2, 5.299], "nice": false, "zero": false}, "axis": {"orient": "bottom", "title": null, "values": [5.2,5.205,5.21,5.215,5.22,5.225,5.23,5.235,5.24,5.245,5.25,5.255,5.26,5.265,5.27,5.275,5.28,5.285,5.29,5.295], "tickSize": {"condition": {"test": "abs(datum.value*50-round(datum.value*50))<0.01", "value": -13}, "value": -6.5}, "labelExpr": "abs(datum.value*50-round(datum.value*50))<0.01 ? format(datum.value, '.2~f') : ''", "labelFontSize": {"condition": {"test": "abs(datum.value*50-round(datum.value*50))>=0.01", "value": 0}, "value": 20}, "labelPadding": 28}},
           "y": {"field": "n", "type": "quantitative", "scale": {"domain": [0, 11.37], "nice": false}, "axis": {"orient": "left", "title": null, "labels": false, "values": [0,1,2,3,4,5,6,7,8,9,10,11], "tickSize": {"condition": {"test": "datum.value % 5 == 0", "value": -9}, "value": -5}}}}},
        {"data": {"name": "ff"}, "transform": [{"fold": ["fit", "bg"], "as": ["curve", "v"]}, {"filter": "datum.curve == 'fit' || datum.m >= 5.2705"}],
         "mark": {"type": "line", "color": "#ff00ff", "interpolate": "monotone", "strokeCap": "round", "clip": true},
         "encoding": {
           "x": {"field": "m", "type": "quantitative", "scale": {"domain": [5.2, 5.299], "nice": false, "zero": false}, "axis": {"orient": "top", "title": null, "labels": false, "values": [5.2,5.205,5.21,5.215,5.22,5.225,5.23,5.235,5.24,5.245,5.25,5.255,5.26,5.265,5.27,5.275,5.28,5.285,5.29,5.295], "tickSize": {"condition": {"test": "abs(datum.value*50-round(datum.value*50))<0.01", "value": -13}, "value": -6.5}}},
           "y": {"field": "v", "type": "quantitative", "scale": {"domain": [0, 11.37], "nice": false}, "axis": {"orient": "right", "title": null, "values": [0,1,2,3,4,5,6,7,8,9,10,11], "tickSize": {"condition": {"test": "datum.value % 5 == 0", "value": -9}, "value": -5}, "labelExpr": "datum.value % 5 == 0 ? datum.label : ''", "labelFontSize": {"condition": {"test": "datum.value % 5 != 0", "value": 0}, "value": 20}, "labelPadding": 22}},
           "strokeDash": {"field": "curve", "type": "nominal", "scale": {"domain": ["fit", "bg"], "range": [[1, 0], [0.1, 8]]}, "legend": {"title": null, "legendX": 85, "legendY": 98, "labelExpr": "datum.value == 'bg' ? 'total b.g.' : 'fit result'", "encode": {"symbols": {"update": {"strokeCap": {"value": "round"}, "strokeWidth": {"signal": "datum.value == 'bg' ? 3.4 : 2"}}}}}},
           "strokeWidth": {"field": "curve", "type": "ordinal", "scale": {"domain": ["fit", "bg"], "range": [2, 3.4]}, "legend": null}}},
        {"data": {"values": [{"t": "(f) K⁺π⁰γ"}]}, "mark": {"type": "text", "align": "left", "baseline": "alphabetic", "fontSize": 32},
         "encoding": {"x": {"datum": 5.2241, "type": "quantitative", "axis": null}, "y": {"datum": 9.375, "type": "quantitative", "axis": null}, "text": {"field": "t"}}},
        {"data": {"values": [{"t": "Yield 27 ± 6 ± 0.5"}]}, "mark": {"type": "text", "align": "left", "baseline": "alphabetic", "fontSize": 26},
         "encoding": {"x": {"datum": 5.2097, "type": "quantitative", "axis": null}, "y": {"datum": 7.93, "type": "quantitative", "axis": null}, "text": {"field": "t"}}}
      ],
      "resolve": {"axis": {"x": "independent", "y": "independent"}}
    }
  ]
}
